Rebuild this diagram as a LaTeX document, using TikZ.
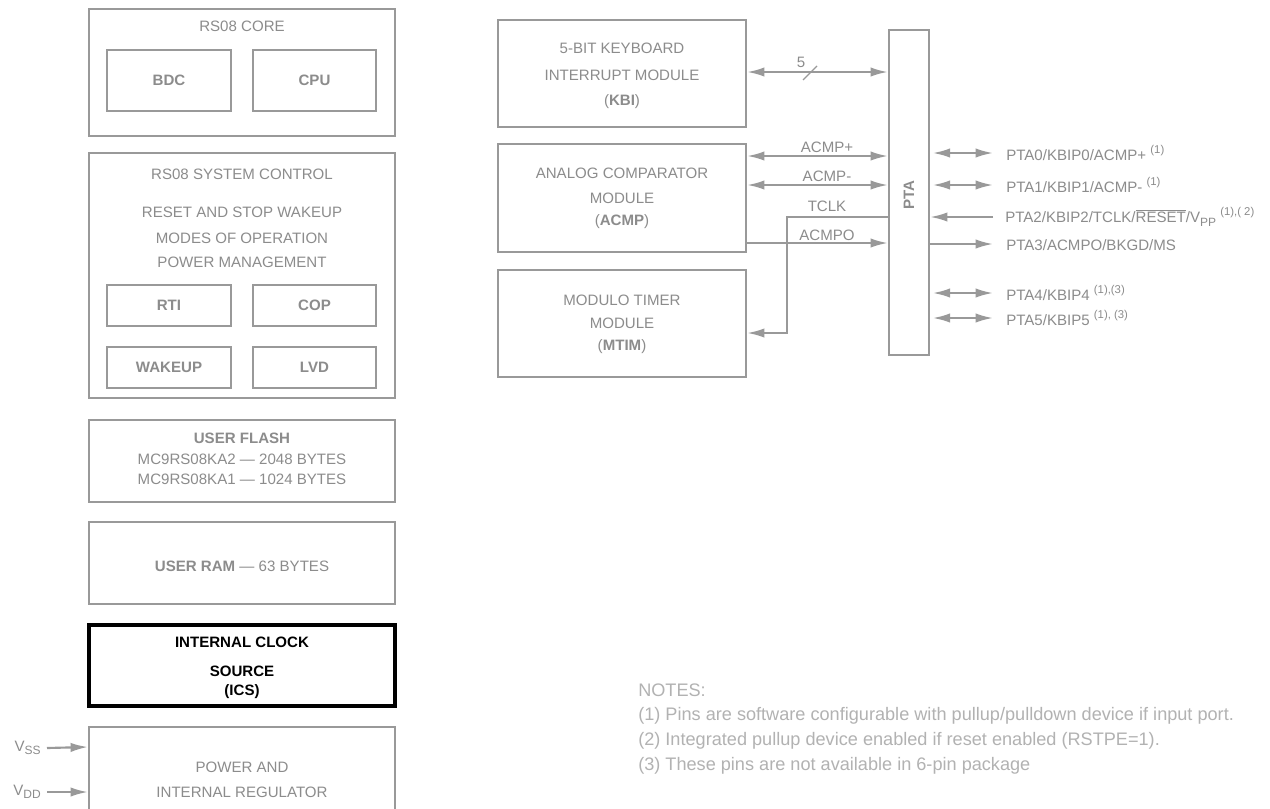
\documentclass[tikz,border=0pt]{standalone}
\usepackage{fontspec}
\setmainfont{Liberation Sans}
\usetikzlibrary{arrows.meta,fit}
\definecolor{linegray}{RGB}{153,153,153}
\definecolor{textgray}{RGB}{140,140,140}
\definecolor{notegray}{RGB}{178,178,178}
\newcommand{\mysup}[1]{\raisebox{0.9ex}{\fontsize{8.5}{9}\selectfont #1}}
\newcommand{\mysub}[1]{\raisebox{-0.45ex}{\fontsize{9}{9}\selectfont #1}}
\begin{document}
\begin{tikzpicture}[x=0.75pt,y=-0.75pt,
  box/.style={draw=linegray, line width=1.6pt, inner sep=0pt, fill=none},
  blackbox/.style={draw=black, line width=2.4pt, inner sep=0pt},
  txt/.style={text=textgray, font=\fontsize{11.3}{13}\selectfont, inner sep=0pt, align=center},
  btxt/.style={txt, font=\fontsize{11.3}{13}\selectfont\bfseries},
  pin/.style={text=textgray, font=\fontsize{11.3}{13}\selectfont, inner sep=0pt, anchor=west},
  note/.style={text=notegray, font=\fontsize{13.6}{15}\selectfont, inner sep=0pt, anchor=west},
  conn/.style={draw=linegray, line width=1.6pt},
  tip/.style={conn, -{Latex[length=13pt,width=7pt]}},
  bidir/.style={conn, {Latex[length=13pt,width=7pt]}-{Latex[length=13pt,width=7pt]}}
]
\useasboundingbox[fill=white] (0,0) rectangle (1270,808);

% ---------- left column ----------
\node[box, fit={(89,9)(395,136)}] (core) {};
\node[txt] (coret) at (242,26) {RS08 CORE};
\node[box, fit={(107,50)(231,111)}] (bdc) {};
\node[btxt] at (bdc.center) {BDC};
\node[box, fit={(253,50)(376,111)}] (cpu) {};
\node[btxt] at (cpu.center) {CPU};

\node[box, fit={(89,153)(395,398)}] (sys) {};
\node[txt] (syst) at (242,174) {RS08 SYSTEM CONTROL};
\node[txt] (sys1) at (242,212) {RESET AND STOP WAKEUP};
\node[txt] (sys2) at (242,238) {MODES OF OPERATION};
\node[txt] (sys3) at (242,262) {POWER MANAGEMENT};
\node[box, fit={(107,285)(231,326)}] (rti) {};
\node[btxt] at (rti.center) {RTI};
\node[box, fit={(253,285)(376,326)}] (cop) {};
\node[btxt] at (cop.center) {COP};
\node[box, fit={(107,347)(231,388)}] (wak) {};
\node[btxt] at (wak.center) {WAKEUP};
\node[box, fit={(253,347)(376,388)}] (lvd) {};
\node[btxt] at (lvd.center) {LVD};

\node[box, fit={(89,420)(395,502)}] (flash) {};
\node[btxt] (fl1) at (242,438) {USER FLASH};
\node[txt] (fl2) at (242,459) {MC9RS08KA2 --- 2048 BYTES};
\node[txt] (fl3) at (242,479) {MC9RS08KA1 --- 1024 BYTES};

\node[box, fit={(89,522)(395,604)}] (ram) {};
\node[txt] (ramt) at (242,566) {\textbf{USER RAM} --- 63 BYTES};

\node[blackbox, fit={(89,625)(395,706)}] (ics) {};
\node[btxt, text=black] (ics1) at (242,642) {INTERNAL CLOCK};
\node[btxt, text=black] (ics2) at (242,671) {SOURCE};
\node[btxt, text=black] (ics3) at (242,692) {(ICS)};

\node[box, fit={(89,727)(395,830)}] (pwr) {};
\node[txt] (pwr1) at (242,767) {POWER AND};
\node[txt] (pwr2) at (242,792) {INTERNAL REGULATOR};

\node[txt, anchor=east] (vss) at (41,748) {V\mysub{SS}};
\node[txt, anchor=east] (vdd) at (41,792) {V\mysub{DD}};
\coordinate (vssy) at (0,747);
\coordinate (vddy) at (0,792);
\draw[tip] (vss.east) ++(6,0) coordinate (vsss) -- (pwr.west |- vssy);
\draw[tip] (vdd.east) ++(6,0) coordinate (vdds) -- (pwr.west |- vddy);

% ---------- right side ----------
\node[box, fit={(498,20)(746,127)}] (kbi) {};
\node[txt] at (622,48) {5-BIT KEYBOARD};
\node[txt] at (622,75) {INTERRUPT MODULE};
\node[txt] at (622,102) {(\textbf{KBI})};

\node[box, fit={(498,144)(746,252)}] (acmp) {};
\node[txt] at (622,173) {ANALOG COMPARATOR};
\node[txt] at (622,198) {MODULE};
\node[txt] at (622,222) {(\textbf{ACMP})};

\node[box, fit={(498,270)(746,377)}] (mtim) {};
\node[txt] at (622,300) {MODULO TIMER};
\node[txt] at (622,323) {MODULE};
\node[txt] at (622,347) {(\textbf{MTIM})};

\node[box, fit={(889,30)(929,355)}] (pta) {};
\node[btxt, rotate=90] at (909,195) {PTA};

\coordinate (ykbi) at (0,72);
\coordinate (yap) at (0,156);
\coordinate (yam) at (0,185);
\coordinate (ytc) at (0,217);
\coordinate (yao) at (0,243);
\coordinate (ymt) at (0,333);
\coordinate (xtc) at (787,0);

\draw[bidir] (kbi.east |- ykbi) -- (pta.west |- ykbi);
\coordinate (sl1) at (803,80);
\coordinate (sl2) at (817,66);
\draw[conn, line width=1pt] (sl1) -- (sl2);
\node[txt] (five) at (801,62) {5};

\draw[bidir] (acmp.east |- yap) -- (pta.west |- yap);
\node[txt] (lap) at (827,147) {ACMP+};
\draw[bidir] (acmp.east |- yam) -- (pta.west |- yam);
\node[txt] (lam) at (827,176) {ACMP-};
\node[txt] (ltc) at (827,206) {TCLK};
\draw[tip] (pta.west |- ytc) -- (xtc |- ytc) -- (xtc |- ymt) -- (mtim.east |- ymt);
\node[txt] (lao) at (827,235) {ACMPO};
\draw[tip] (acmp.east |- yao) -- (pta.west |- yao);

% pins
\coordinate (pe) at (993,0);
\coordinate (p0) at (0,153);
\coordinate (p1) at (0,185);
\coordinate (p2) at (0,217);
\coordinate (p3) at (0,244);
\coordinate (p4) at (0,293);
\coordinate (p5) at (0,318);
\draw[bidir] ([xshift=2pt]pta.east |- p0) -- (pe |- p0);
\draw[bidir] ([xshift=2pt]pta.east |- p1) -- (pe |- p1);
\draw[tip] (pe |- p2) -- (pta.east |- p2);
\draw[tip] (pta.east |- p3) -- (pe |- p3);
\draw[bidir] ([xshift=2pt]pta.east |- p4) -- (pe |- p4);
\draw[bidir] ([xshift=2pt]pta.east |- p5) -- (pe |- p5);

\node[pin] (n0) at (1006,153) {PTA0/KBIP0/ACMP+ \mysup{(1)}};
\node[pin] (n1) at (1006,185) {PTA1/KBIP1/ACMP- \mysup{(1)}};
\node[pin] (n2) at (1005,217) {PTA2/KBIP2/TCLK/$\overline{\mbox{RESET}}$/V\mysub{PP} \mysup{(1),( 2)}};
\node[pin] (n3) at (1006,245) {PTA3/ACMPO/BKGD/MS};
\node[pin] (n4) at (1006,293) {PTA4/KBIP4 \mysup{(1),(3)}};
\node[pin] (n5) at (1006,318) {PTA5/KBIP5 \mysup{(1), (3)}};

% notes
\node[note] (notes) at (638,690) {NOTES:};
\node[note] (note1) at (638,716) {(1) Pins are software configurable with pullup/pulldown device if input port.};
\node[note] (note2) at (638,741) {(2) Integrated pullup device enabled if reset enabled (RSTPE=1).};
\node[note] (note3) at (638,766) {(3) These pins are not available in 6-pin package};
\end{tikzpicture}
\end{document}
